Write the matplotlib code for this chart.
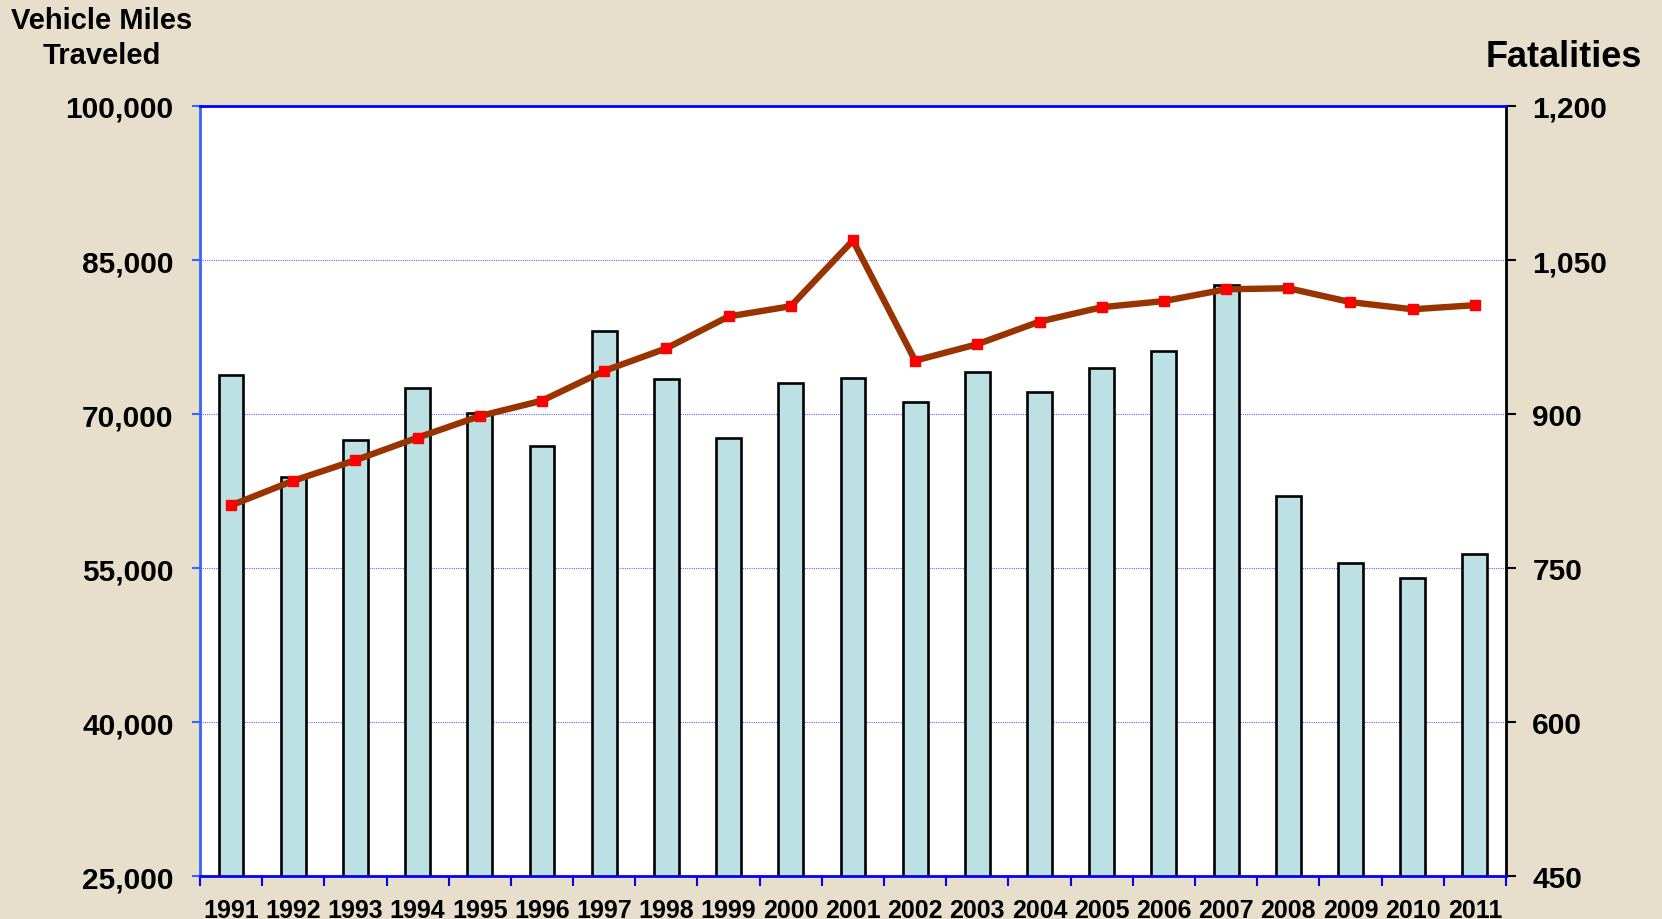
import matplotlib
matplotlib.use("Agg")
import matplotlib.pyplot as plt
from matplotlib.ticker import FuncFormatter, FixedLocator

years = [str(y) for y in range(1991, 2012)]

# bars -> right axis
fatalities = [938, 839, 875, 925, 901, 869, 981, 934, 877, 930, 935,
              912, 941, 921, 945, 961, 1026, 820, 755, 740, 764]

# line -> left axis
vmt = [61100, 63500, 65500, 67700, 69800, 71300, 74200, 76400, 79500, 80500,
       86900, 75200, 76800, 79000, 80400, 81000, 82150, 82250, 80900, 80200, 80600]

left_ticks = [25000, 40000, 55000, 70000, 85000, 100000]
right_ticks = [450, 600, 750, 900, 1050, 1200]

bg = "#E8DECC"
plt.rcParams['font.family'] = ['Liberation Sans', 'DejaVu Sans']
plt.rcParams['font.weight'] = 'bold'

fig = plt.figure(figsize=(16.62, 9.2), dpi=100, facecolor=bg)
ax = fig.add_axes([0.1203, 0.0467, 0.7858, 0.837])
ax.set_facecolor("white")

x = list(range(len(years)))

ax.bar(x, fatalities, width=0.4, color="#BCE0E3", edgecolor="black",
       linewidth=1.9, zorder=3)
ax.set_ylim(450, 1200)
ax.set_xlim(-0.5, len(years) - 0.5)
ax.set_yticks(right_ticks)
ax.yaxis.grid(True, color="#6666FF", linestyle=(0, (1, 1)), linewidth=0.8, zorder=0)
ax.set_axisbelow(True)

ax2 = ax.twinx()
ax2.plot(x, vmt, color="#993300", linewidth=4.6, marker="s", markersize=7.5,
         markerfacecolor="#FF0000", markeredgecolor="#FF0000", zorder=5)
ax2.set_ylim(25000, 100000)
ax2.set_yticks(left_ticks)

# axis sides: bars on the right, line on the left
ax.yaxis.tick_right()
ax2.yaxis.tick_left()

comma = FuncFormatter(lambda v, p: f"{int(v):,}")
ax.yaxis.set_major_formatter(comma)
ax2.yaxis.set_major_formatter(comma)

ax.tick_params(axis='y', direction='out', length=7, width=1.5, color="black",
               labelsize=21.5, pad=12)
ax2.tick_params(axis='y', direction='out', length=6, width=1.5, color="#3366FF",
                labelsize=21.5, pad=13)

# x axis: ticks at boundaries, labels at centers
ax.xaxis.set_major_locator(FixedLocator([i - 0.5 for i in range(len(years) + 1)]))
ax.xaxis.set_minor_locator(FixedLocator(x))
ax.set_xticklabels([])
ax.set_xticklabels(years, minor=True)
ax.tick_params(axis='x', which='major', direction='out', length=7, width=1.5,
               color="#0000FF")
ax.tick_params(axis='x', which='minor', length=0, labelsize=18, pad=16)

for a in (ax, ax2):
    for s in a.spines.values():
        s.set_visible(False)
ax2.spines['left'].set_visible(True)
ax2.spines['left'].set_color("#3366FF")
ax2.spines['top'].set_visible(True)
ax2.spines['top'].set_color("#0000FF")
ax2.spines['bottom'].set_visible(True)
ax2.spines['bottom'].set_color("#0000FF")
ax2.spines['right'].set_visible(True)
ax2.spines['right'].set_color("black")
for s in ax2.spines.values():
    s.set_linewidth(2)

fig.text(0.061, 0.992, "Vehicle Miles\nTraveled", ha="center", va="top",
         fontsize=21, fontweight="bold", linespacing=1.32)
fig.text(0.941, 0.938, "Fatalities", ha="center", va="center",
         fontsize=26, fontweight="bold")

fig.savefig("out.png", dpi=100, facecolor=bg)
